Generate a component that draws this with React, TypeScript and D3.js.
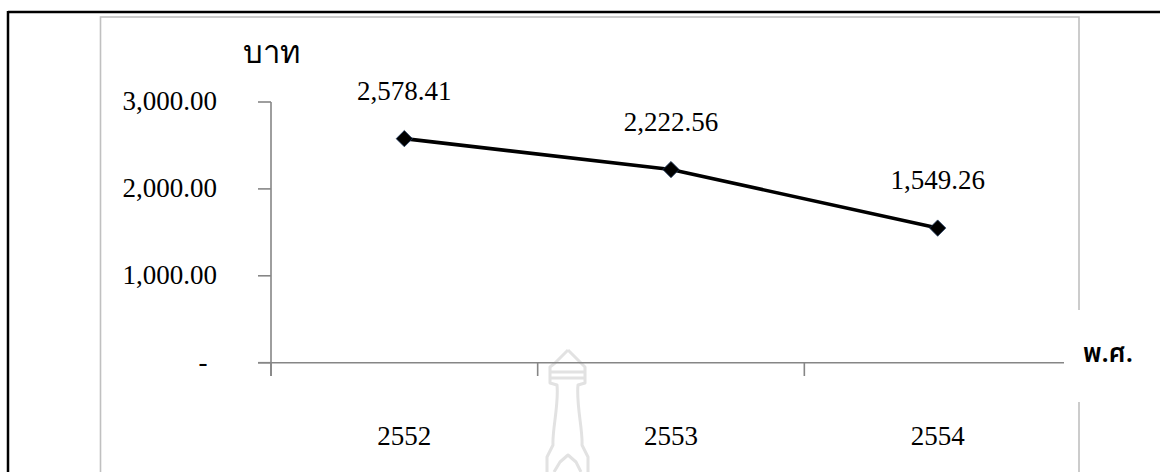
import React from "react";
import * as d3 from "d3";

const categories = ["2552", "2553", "2554"];
const values = [2578.41, 2222.56, 1549.26];
const valueLabels = ["2,578.41", "2,222.56", "1,549.26"];
const yTicks = [0, 1000, 2000, 3000];
const yTickLabels = ["-", "1,000.00", "2,000.00", "3,000.00"];
const yTitle = "บาท";
const xTitle = "พ.ศ.";

const W = 1160;
const H = 472;
const FONT = "'Liberation Serif', 'Times New Roman', serif";
const THAI = "'Noto Sans Thai', 'Tahoma', 'DejaVu Sans', sans-serif";

export default function App() {
  const x = d3.scaleBand<string>().domain(categories).range([271, 1071]);
  const y = d3.scaleLinear().domain([0, 3000]).range([362.7, 102]);
  const pts = categories.map((c, i) => [x(c)! + x.bandwidth() / 2, y(values[i])] as [number, number]);
  const line = d3.line()(pts) || "";
  const diamond = d3.symbol().type(d3.symbolDiamond2).size(170)() || "";
  const bandEdges = [...categories.map((c) => x(c)!), x.range()[1]];

  // watermark outline (decorative)
  const wx = 568;
  const wm = [
    `M${wx},350 L${wx - 13},363 L${wx - 18},367 L${wx - 18},383 L${wx - 11},385`,
    `C${wx - 9},405 ${wx - 16},430 ${wx - 15},445 L${wx - 21},457 L${wx - 21},472`,
    `M${wx},350 L${wx + 13},363 L${wx + 17},367 L${wx + 17},383 L${wx + 10},385`,
    `C${wx + 8},405 ${wx + 15},430 ${wx + 14},445 L${wx + 20},457 L${wx + 20},472`,
    `M${wx - 18},372 L${wx + 17},372 M${wx - 18},378 L${wx + 17},378`,
    `M${wx - 14},472 L${wx - 8},462 L${wx},455 L${wx + 8},462 L${wx + 13},472`,
  ].join(" ");

  return (
    <div style={{ position: "absolute", left: 0, top: 0 }}>
      <svg width={W} height={H} style={{ display: "block", background: "#fff" }}>
        {/* outer black border */}
        <line x1={8} y1={12} x2={W} y2={12} stroke="#000" strokeWidth={2.5} />
        <line x1={8} y1={11} x2={8} y2={H} stroke="#000" strokeWidth={2.5} />
        {/* chart area gray frame */}
        <rect x={100.5} y={17} width={978.5} height={H} fill="none" stroke="#c0c0c0" strokeWidth={1.6} />

        {/* watermark */}
        <path d={wm} fill="none" stroke="#e2e2e2" strokeWidth={3} strokeLinejoin="round" />

        {/* y axis */}
        <line x1={271} y1={y(3000)} x2={271} y2={376} stroke="#868686" strokeWidth={1.6} />
        {yTicks.map((t, i) => (
          <g key={t}>
            <line x1={258} x2={271} y1={y(t)} y2={y(t)} stroke="#868686" strokeWidth={1.6} />
            <text
              x={t === 0 ? 203 : 217}
              y={y(t) + 8}
              textAnchor={t === 0 ? "middle" : "end"}
              fontFamily={FONT}
              fontSize={27}
              fill="#000"
            >
              {yTickLabels[i]}
            </text>
          </g>
        ))}

        {/* x axis */}
        <line x1={258} y1={y(0)} x2={x.range()[1]} y2={y(0)} stroke="#868686" strokeWidth={1.6} />
        {bandEdges.map((e, i) => (
          <line key={i} x1={e} x2={e} y1={y(0)} y2={376} stroke="#868686" strokeWidth={1.6} />
        ))}
        {categories.map((c) => (
          <text
            key={c}
            x={x(c)! + x.bandwidth() / 2}
            y={445}
            textAnchor="middle"
            fontFamily={FONT}
            fontSize={27}
            fill="#000"
          >
            {c}
          </text>
        ))}

        {/* series */}
        <path d={line} fill="none" stroke="#000" strokeWidth={3.6} strokeLinejoin="round" />
        {pts.map((p, i) => (
          <g key={i}>
            <path d={diamond} transform={`translate(${p[0]},${p[1]})`} fill="#000" stroke="#1f3a60" strokeWidth={0.8} />
            <text x={p[0]} y={p[1] - 39} textAnchor="middle" fontFamily={FONT} fontSize={27} fill="#000">
              {valueLabels[i]}
            </text>
          </g>
        ))}

        {/* axis titles */}
        <text x={243} y={63} fontFamily={FONT} fontSize={31} fill="#000">
          {yTitle}
        </text>
        <rect x={1064} y={310} width={90} height={92} fill="#fff" />
        <text x={1083} y={362} fontFamily={THAI} fontSize={26} fontWeight={600} fill="#000">
          {xTitle}
        </text>
      </svg>
    </div>
  );
}
